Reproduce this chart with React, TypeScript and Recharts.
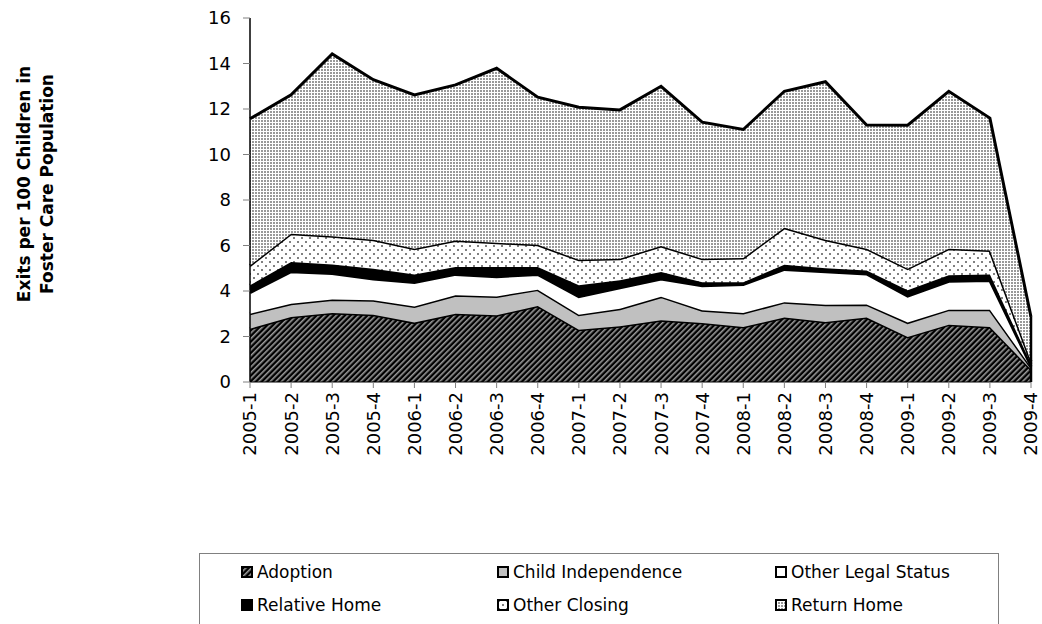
import { AreaChart, Area, XAxis, YAxis, ReferenceLine } from "recharts";

const quarters = [
  "2005-1", "2005-2", "2005-3", "2005-4",
  "2006-1", "2006-2", "2006-3", "2006-4",
  "2007-1", "2007-2", "2007-3", "2007-4",
  "2008-1", "2008-2", "2008-3", "2008-4",
  "2009-1", "2009-2", "2009-3", "2009-4",
];

const adoption = [2.34, 2.86, 3.03, 2.96, 2.61, 3.0, 2.93, 3.34, 2.3, 2.45, 2.71, 2.59, 2.42, 2.83, 2.64, 2.83, 1.98, 2.52, 2.42, 0.55];
const childIndependence = [0.66, 0.58, 0.6, 0.63, 0.71, 0.81, 0.83, 0.72, 0.66, 0.77, 1.04, 0.56, 0.61, 0.68, 0.76, 0.58, 0.63, 0.66, 0.76, 0.1];
const otherLegalStatus = [0.93, 1.41, 1.14, 0.94, 1.05, 0.92, 0.87, 0.67, 0.79, 0.92, 0.78, 1.08, 1.26, 1.44, 1.45, 1.34, 1.16, 1.25, 1.28, 0.05];
const relativeHome = [0.32, 0.42, 0.4, 0.45, 0.36, 0.32, 0.42, 0.32, 0.5, 0.33, 0.3, 0.16, 0.1, 0.2, 0.15, 0.15, 0.26, 0.26, 0.27, 0.1];
const otherClosing = [0.87, 1.25, 1.24, 1.27, 1.13, 1.17, 1.07, 0.98, 1.12, 0.95, 1.15, 1.03, 1.06, 1.63, 1.25, 0.96, 0.95, 1.17, 1.05, 0.1];
const returnHome = [6.45, 6.1, 8.01, 7.04, 6.76, 6.84, 7.67, 6.49, 6.71, 6.54, 7.02, 6.0, 5.65, 6.0, 6.95, 5.44, 6.31, 6.92, 5.82, 1.96];

const yTicks = [0, 2, 4, 6, 8, 10, 12, 14, 16];
const yLabelLines = ["Exits per 100 Children in", "Foster Care Population"];

// stacking order, bottom to top
const series = [
  { key: "adoption", name: "Adoption", values: adoption, fill: "url(#pAdoption)" },
  { key: "childIndependence", name: "Child Independence", values: childIndependence, fill: "#c0c0c0" },
  { key: "otherLegalStatus", name: "Other Legal Status", values: otherLegalStatus, fill: "#ffffff" },
  { key: "relativeHome", name: "Relative Home", values: relativeHome, fill: "#000000" },
  { key: "otherClosing", name: "Other Closing", values: otherClosing, fill: "url(#pOtherClosing)" },
  { key: "returnHome", name: "Return Home", values: returnHome, fill: "url(#pReturnHome)" },
];

const data = quarters.map((q, i) => {
  const row: any = { q };
  series.forEach((s) => (row[s.key] = s.values[i]));
  return row;
});

// the area's closing edge on the right side
const lastQuarter = quarters[quarters.length - 1];
const lastTotal = series.reduce((sum, s) => sum + s.values[s.values.length - 1], 0);

const TICK_FONT = "'DejaVu Sans', Verdana, sans-serif";

function Patterns() {
  return (
    <svg width={0} height={0} style={{ position: "absolute" }}>
      <defs>
        <pattern id="pAdoption" width={4} height={4} patternUnits="userSpaceOnUse" patternTransform="rotate(45)">
          <rect width={4} height={4} fill="#000" />
          <rect width={1.6} height={4} fill="#9a9a9a" />
        </pattern>
        <pattern id="pOtherClosing" width={8} height={8} patternUnits="userSpaceOnUse">
          <rect width={8} height={8} fill="#fff" />
          <rect x={1} y={1} width={2} height={2} fill="#808080" />
          <rect x={5} y={5} width={2} height={2} fill="#808080" />
        </pattern>
        <pattern id="pReturnHome" width={3} height={3} patternUnits="userSpaceOnUse">
          <rect width={3} height={3} fill="#fff" />
          <rect width={2} height={2} fill="#999" />
        </pattern>
      </defs>
    </svg>
  );
}

function QuarterTick({ x, y, payload }: any) {
  return (
    <text
      transform={`translate(${x},${y}) rotate(-90)`}
      textAnchor="end"
      dy="0.36em"
      fontSize={18}
      fontFamily={TICK_FONT}
      fill="#000"
    >
      {payload.value}
    </text>
  );
}

function YLabel() {
  return (
    <svg width={70} height={420} style={{ position: "absolute", left: 0, top: 0 }}>
      <text
        transform="translate(0,184) rotate(-90)"
        textAnchor="middle"
        fontSize={17}
        fontWeight="bold"
        fontFamily={TICK_FONT}
        fill="#000"
      >
        <tspan x={0} y={30}>{yLabelLines[0]}</tspan>
        <tspan x={0} y={53}>{yLabelLines[1]}</tspan>
      </text>
    </svg>
  );
}

function LegendBox() {
  const colX = [41, 297, 575];
  const rowY = [18, 51];
  return (
    <div
      style={{
        position: "absolute",
        left: 199,
        top: 553,
        width: 798,
        height: 90,
        border: "1px solid #808080",
        background: "#fff",
        fontFamily: TICK_FONT,
        fontSize: 17,
      }}
    >
      {series.map((s, i) => (
        <div
          key={s.key}
          style={{
            position: "absolute",
            left: colX[i % 3],
            top: rowY[Math.floor(i / 3)] - 11,
            height: 22,
            display: "flex",
            alignItems: "center",
            whiteSpace: "nowrap",
          }}
        >
          <svg width={12} height={12} style={{ marginRight: 4 }}>
            <rect x={1} y={1} width={10} height={10} fill={s.fill} stroke="#000" strokeWidth={2} />
          </svg>
          <span>{s.name}</span>
        </div>
      ))}
    </div>
  );
}

export default function App() {
  return (
    <div style={{ position: "absolute", left: 0, top: 0, width: 1042, height: 624, overflow: "hidden", background: "#fff" }}>
      <Patterns />
      <AreaChart width={1042} height={624} data={data} margin={{ top: 18, right: 11, left: 0, bottom: 0 }}>
        <XAxis
          dataKey="q"
          height={242}
          tick={<QuarterTick />}
          tickSize={6}
          tickMargin={4}
          interval={0}
          axisLine={{ stroke: "#000" }}
          tickLine={{ stroke: "#808080" }}
        />
        <YAxis
          width={250}
          domain={[0, 16]}
          ticks={yTicks}
          tickSize={7}
          tickMargin={12}
          tick={{ fontSize: 18, fill: "#000", fontFamily: TICK_FONT }}
          axisLine={{ stroke: "#000", strokeWidth: 1.5 }}
          tickLine={{ stroke: "#808080" }}
        />
        {series.map((s) => (
          <Area
            key={s.key}
            type="linear"
            dataKey={s.key}
            name={s.name}
            stackId="exits"
            fill={s.fill}
            fillOpacity={1}
            stroke="#000"
            strokeWidth={3}
            isAnimationActive={false}
          />
        ))}
        <ReferenceLine
          segment={[
            { x: lastQuarter, y: 0 },
            { x: lastQuarter, y: lastTotal },
          ]}
          stroke="#000"
          strokeWidth={2.5}
        />
      </AreaChart>
      <YLabel />
      <LegendBox />
    </div>
  );
}
